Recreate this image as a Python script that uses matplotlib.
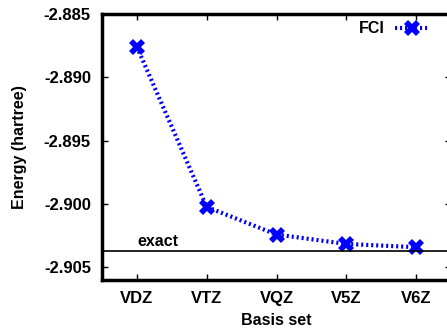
import matplotlib
matplotlib.use("Agg")
import matplotlib.pyplot as plt

basis = ["VDZ", "VTZ", "VQZ", "V5Z", "V6Z"]
fci = [-2.887595, -2.900232, -2.902411, -2.903152, -2.903410]
exact = -2.903724

plt.rcParams['font.family'] = ['Liberation Sans', 'DejaVu Sans']
plt.rcParams['font.weight'] = 'bold'
plt.rcParams['axes.labelweight'] = 'bold'
plt.rcParams['font.size'] = 12

fig = plt.figure(figsize=(4.47, 3.28), dpi=100)
ax = fig.add_axes([102 / 447, 48 / 328, 349 / 447, 266 / 328])

xs = list(range(1, len(basis) + 1))
ax.plot(xs, fci, color='#0000ff', linestyle=(0, (0.5, 0.7)), linewidth=3,
        marker='X', markersize=11, markeredgewidth=0, label="FCI")
ax.axhline(exact, color='black', linewidth=1.2)
ax.text(1.0, exact + 0.0002, "exact", ha='left', va='bottom', fontsize=11.5)

ax.set_xlim(0.5, 5.5)
ax.set_ylim(-2.906, -2.885)
ax.set_xticks(xs)
ax.set_xticklabels(basis)
ax.set_yticks([-2.885, -2.890, -2.895, -2.900, -2.905])
ax.set_yticklabels(["-2.885", "-2.890", "-2.895", "-2.900", "-2.905"])
ax.tick_params(direction='in', length=4, width=1, top=True, right=True, pad=8)
for s in ax.spines.values():
    s.set_linewidth(2.5)

ax.set_xlabel("Basis set", fontsize=11.5, labelpad=5)
ax.set_ylabel("Energy (hartree)", fontsize=11.5, labelpad=12)

ax.legend(loc='upper right', frameon=False, markerfirst=False,
          handlelength=2.2, handletextpad=0.6, borderaxespad=0.0,
          bbox_to_anchor=(0.958, 0.996), fontsize=11.5)

fig.savefig("out.png", dpi=100)
